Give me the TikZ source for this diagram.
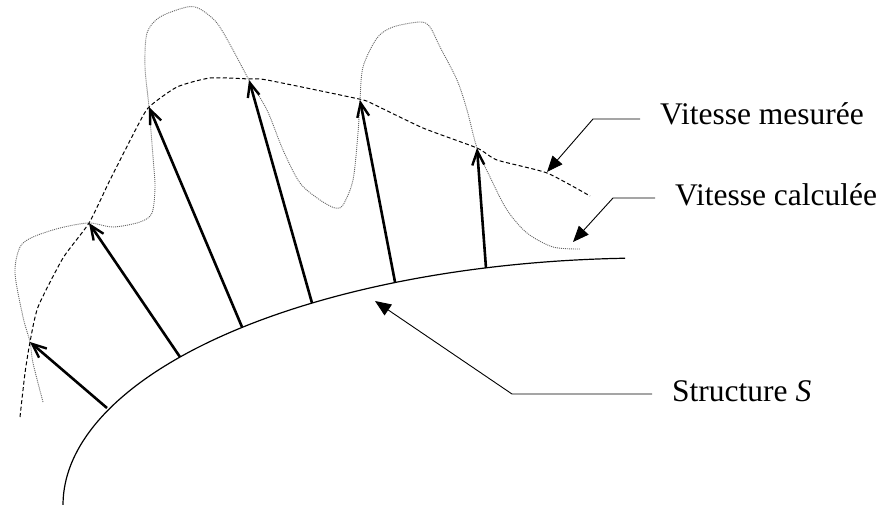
\documentclass[tikz,border=0pt]{standalone}
\usepackage{fontspec}
\setmainfont{Liberation Serif}
\usetikzlibrary{arrows.meta}
\begin{document}
\begin{tikzpicture}[x=1pt,y=-1pt,
  vec/.style={line width=2.6pt,-{Straight Barb[length=14pt,width=12pt,line width=2.4pt]}},
  leader/.style={line width=0.9pt,-{Triangle[length=16pt,width=13pt]}},
  surf/.style={line width=1.2pt},
  meas/.style={line width=1pt,dash pattern=on 4pt off 2.5pt},
  calc/.style={line width=0.9pt,black!60,dash pattern=on 1pt off 1pt},
  lbl/.style={anchor=base west,inner sep=0pt,font=\fontsize{31.5}{36}\selectfont}]
\useasboundingbox (0,0) rectangle (883,505);
% structure (elliptic arc)
\draw[surf] plot[domain=92.44:180,samples=120,smooth] ({650+587*cos(\x)},{505-247*sin(\x)});
% measured (dashed)
\draw[meas] plot[smooth,tension=0.35] coordinates {(20,417) (25,373) (30,342) (38,307) (63,258) (89,223) (110,180) (137,127) (149,107) (177,87) (210,78) (250,79) (267,80) (359,99) (373,104) (423,128) (477,148) (497,160) (547,173) (590,196)};
% calculated (dotted)
\draw[calc] plot[smooth,tension=0.5] coordinates {(43,402) (33,363) (30,342) (23,317) (15,273) (20,247) (33,237) (60,228) (89,223) (113,227) (140,222) (152,213) (155,187) (153,157) (149,107) (145,67) (147,33) (160,17) (187,7) (200,9) (217,23) (233,50) (249,80) (267,110) (283,150) (300,183) (320,200) (335,208) (343,205) (353,180) (358,133) (360,100) (363,67) (377,38) (393,27) (420,22) (430,27) (440,47) (457,80) (467,110) (477,148) (490,177) (507,210) (527,233) (553,247) (580,249)};
% vector feet and tips
\coordinate (f1) at (107,408); \coordinate (t1) at (30,342);
\coordinate (f2) at (180,357); \coordinate (t2) at (89,223);
\coordinate (f3) at (242,327); \coordinate (t3) at (149,107);
\coordinate (f4) at (312,303); \coordinate (t4) at (249,80);
\coordinate (f5) at (395,282); \coordinate (t5) at (360,100);
\coordinate (f6) at (486,268); \coordinate (t6) at (477,148);
\foreach \i in {1,...,6} \draw[vec] (f\i) -- (t\i);
% labels
\node[lbl] (lm) at (660,125) {Vitesse mesurée};
\node[lbl] (lc) at (675,205) {Vitesse calculée};
\node[lbl] (ls) at (672,401) {Structure \textit{S}};
\coordinate (m0) at (640,119); \coordinate (m1) at (593,119); \coordinate (mt) at (547,172);
\coordinate (c0) at (655,198); \coordinate (c1) at (613,198); \coordinate (ct) at (573,242);
\coordinate (s0) at (652,394); \coordinate (s1) at (512,394); \coordinate (st) at (375,301);
\draw[leader] (m0) -- (m1) -- (mt);
\draw[leader] (c0) -- (c1) -- (ct);
\draw[leader] (s0) -- (s1) -- (st);
\end{tikzpicture}
\end{document}
